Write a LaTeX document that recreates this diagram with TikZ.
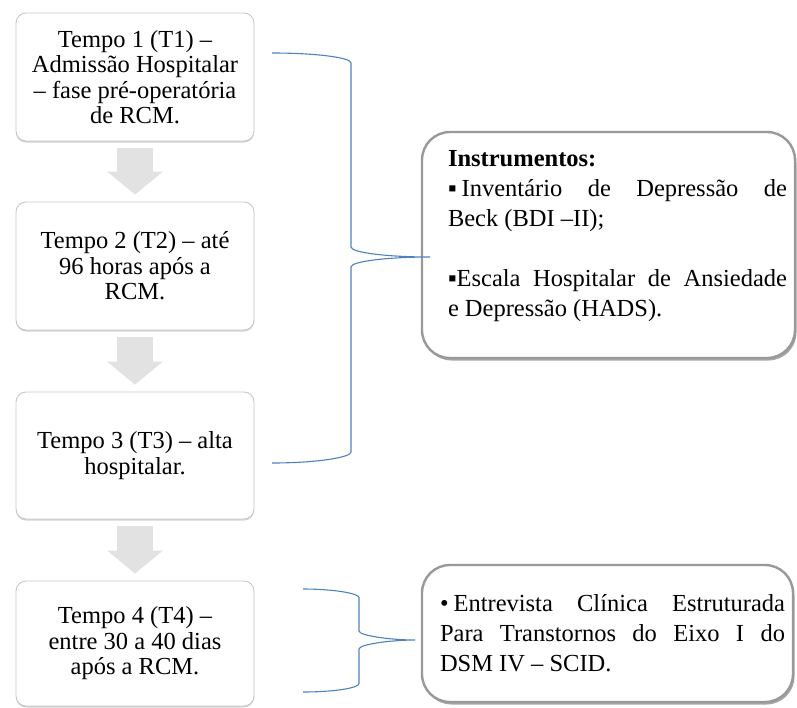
\documentclass[tikz,border=0pt]{standalone}
\usepackage{fontspec}
\setmainfont{Liberation Serif}
\usetikzlibrary{arrows.meta,shadows}
\definecolor{BraceBlue}{HTML}{4F81BD}
\definecolor{BoxEdge}{HTML}{C8C8C8}
\definecolor{PanelEdge}{HTML}{999999}
\definecolor{FlowGrey}{HTML}{E2E2E2}

\begin{document}
\begin{tikzpicture}[x=1pt,y=-1pt,
  stage/.style={draw=BoxEdge,line width=0.9pt,rounded corners=10pt,fill=white,minimum width=238pt,align=center,
    font=\fontsize{24.5}{25.5}\selectfont,drop shadow={shadow xshift=0pt,shadow yshift=-1.5pt,fill=black,opacity=0.18}},
  panel/.style={draw=PanelEdge,line width=2.4pt,rounded corners=28pt,fill=white,inner xsep=8pt,inner ysep=0pt,
    font=\fontsize{24.5}{30}\selectfont,drop shadow={shadow xshift=1.5pt,shadow yshift=-2.5pt,fill=black,opacity=0.35}},
  flow/.style={draw=FlowGrey,line width=36pt,shorten <=7pt,shorten >=7pt,-{Triangle[width=56pt,length=23pt,line width=0pt]}},
  brace/.style={draw=BraceBlue,line width=1.1pt}]
\useasboundingbox (0,0) rectangle (797,707);

\node[stage,minimum height=128pt] (t1) at (135,77) {Tempo 1 (T1) –\\Admissão Hospitalar\\– fase pré-operatória\\de RCM.};
\node[stage,minimum height=128pt] (t2) at (135,266) {Tempo 2 (T2) – até\\96 horas após a\\RCM.};
\node[stage,minimum height=127pt] (t3) at (135,455.5) {Tempo 3 (T3) – alta\\hospitalar.};
\node[stage,minimum height=125pt] (t4) at (135,643.5) {Tempo 4 (T4) –\\entre 30 a 40 dias\\após a RCM.};

\draw[flow] (t1) -- (t2);
\draw[flow] (t2) -- (t3);
\draw[flow] (t3) -- (t4);

\node[panel,minimum height=226pt] (i1) at (608.5,245) {\hspace*{18pt}\parbox[c]{339pt}{\textbf{Instrumentos:}\\
▪\hspace{5pt}Inventário de Depressão de\linebreak Beck (BDI –II);\\[30pt]
▪Escala Hospitalar de Ansiedade\linebreak e Depressão (HADS).\rule[-23pt]{0pt}{0pt}}};
\node[panel,minimum height=137pt] (i2) at (607.5,633.5) {\hspace*{10pt}\parbox[c]{345pt}{•\hspace{5pt}Entrevista Clínica Estruturada\linebreak Para Transtornos do Eixo I do\linebreak DSM IV – SCID.}};

\coordinate (b1a) at (272,53);
\coordinate (b1m) at (430,257);
\coordinate (b1b) at (272,463);
\draw[brace] (b1a) .. controls (315.6,53) and (351,57.5) .. (351,63) -- (351,247)
  .. controls (351,252.5) and (386.4,257) .. (b1m)
  .. controls (386.4,257) and (351,261.5) .. (351,267) -- (351,452)
  .. controls (351,457.5) and (315.6,463) .. (b1b);

\coordinate (b2a) at (303,589);
\coordinate (b2m) at (415,640);
\coordinate (b2b) at (303,692);
\draw[brace] (b2a) .. controls (334,589) and (359,593.5) .. (359,597.5) -- (359,631)
  .. controls (359,635.5) and (390,640) .. (b2m)
  .. controls (390,640) and (359,644.5) .. (359,649) -- (359,683.5)
  .. controls (359,688) and (334,692) .. (b2b);
\end{tikzpicture}
\end{document}
